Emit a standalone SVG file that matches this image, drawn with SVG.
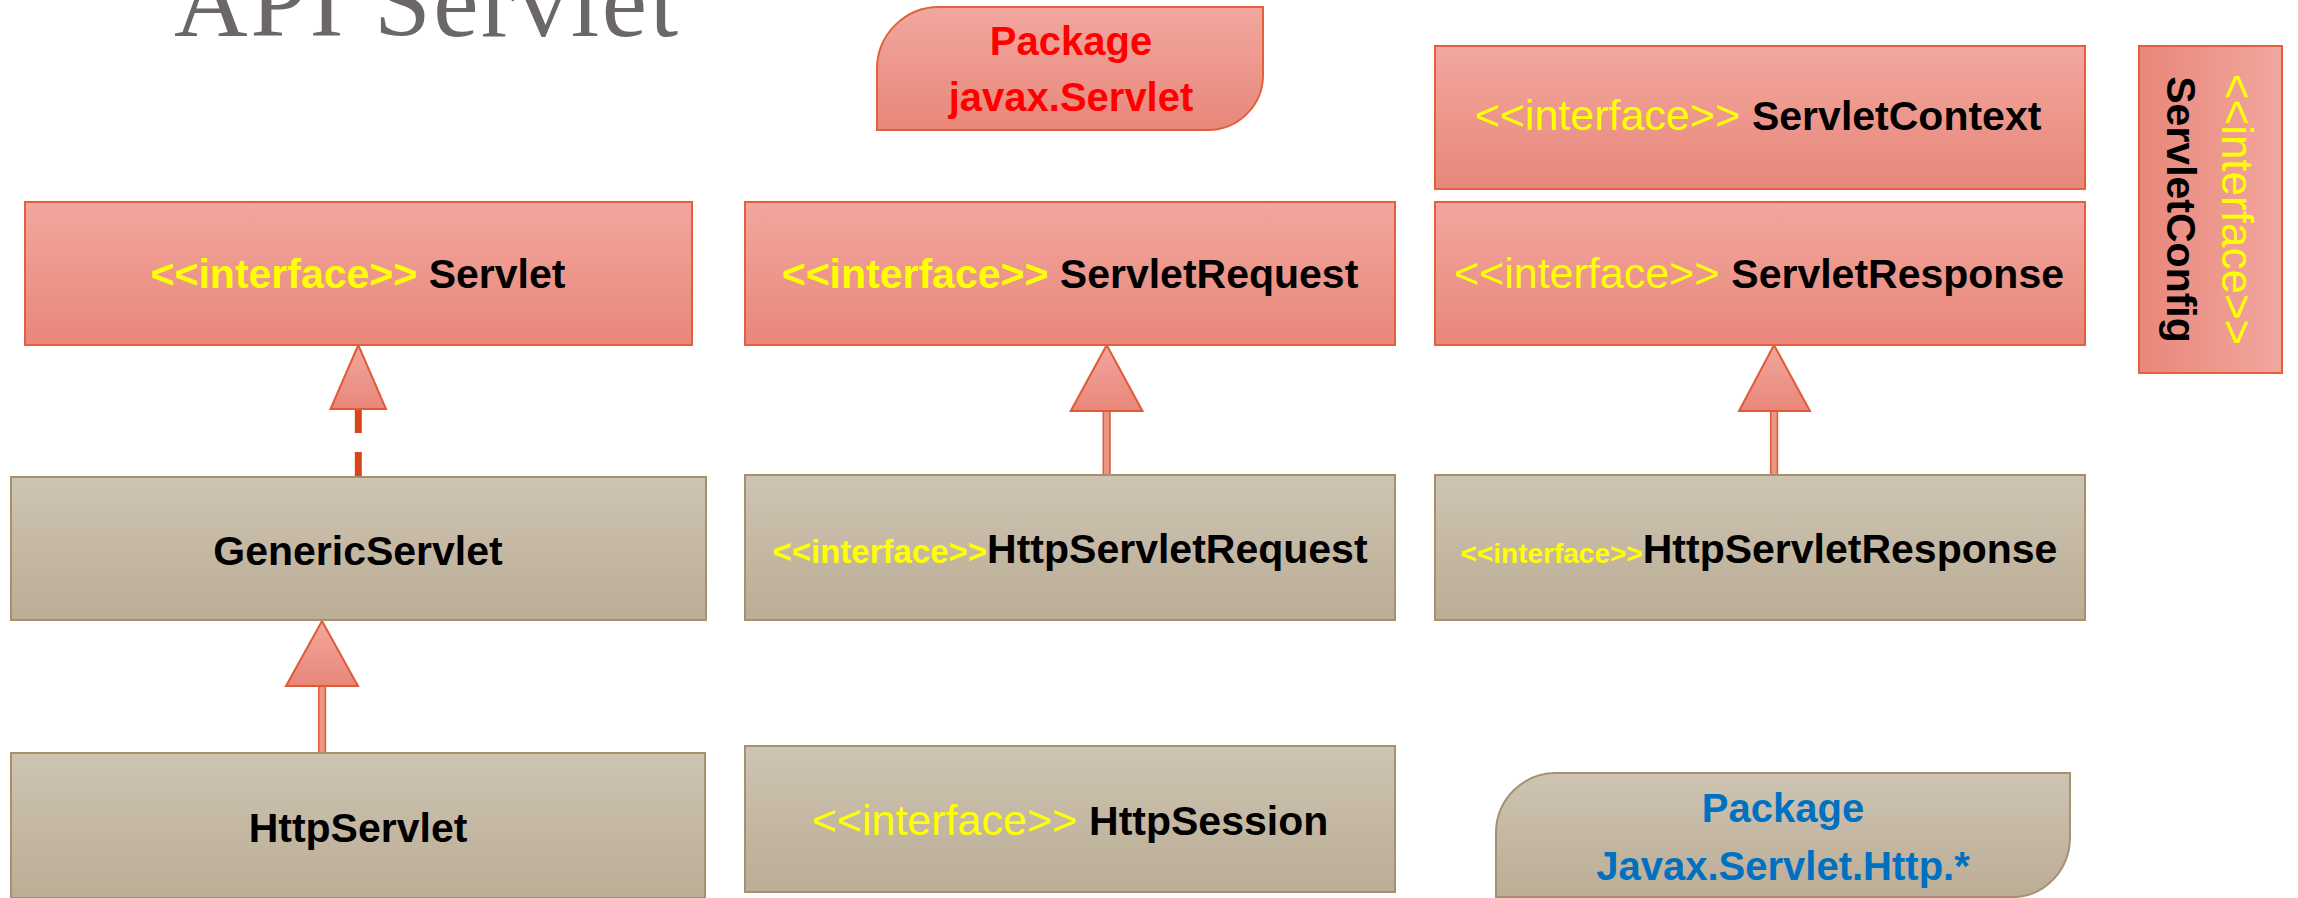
<svg xmlns="http://www.w3.org/2000/svg" width="2298" height="898" viewBox="0 0 2298 898">
<defs>
<linearGradient id="pinkV" x1="0" y1="0" x2="0" y2="1"><stop offset="0" stop-color="#f2a79e"/><stop offset="1" stop-color="#e8877a"/></linearGradient>
<linearGradient id="pinkH" x1="1" y1="0" x2="0" y2="0"><stop offset="0" stop-color="#f2a79e"/><stop offset="1" stop-color="#e8877a"/></linearGradient>
<linearGradient id="tanV" x1="0" y1="0" x2="0" y2="1"><stop offset="0" stop-color="#cdc4b2"/><stop offset="1" stop-color="#bcad96"/></linearGradient>
</defs>
<style>
.pink{fill:url(#pinkV);stroke:#e2603c;stroke-width:2}
.pinkh{fill:url(#pinkH);stroke:#e2603c;stroke-width:2}
.tan{fill:url(#tanV);stroke:#a6916f;stroke-width:2}
text{font-family:"Liberation Sans",Arial,sans-serif;text-anchor:middle}
.b{font-weight:bold;fill:#000;font-size:41px}
.y{fill:#ffff00;font-size:43px}
.yb{fill:#ffff00;font-weight:bold;font-size:41px}
.tri{fill:url(#pinkV);stroke:#e05a35;stroke-width:2}
.stem{fill:#ec9585;stroke:#e05a35;stroke-width:1.5}
.dash{stroke:#d5471a;stroke-width:7;stroke-dasharray:24 19;fill:none}
</style>
<rect width="2298" height="898" fill="#ffffff"/>
<text x="174" y="36" textLength="504" lengthAdjust="spacing" style="font-family:'Liberation Serif',serif;font-size:102px;fill:#6b6766;text-anchor:start">API Servlet</text>

<g id="connectors">
<line class="dash" x1="358.3" y1="409" x2="358.3" y2="476"/>
<polygon class="tri" points="358.3,345 330.5,409 386,409"/>
<rect class="stem" x="1103.3" y="411" width="6.7" height="64"/>
<polygon class="tri" points="1106.7,345 1070.7,411 1142.5,411"/>
<rect class="stem" x="1770.7" y="411" width="6.7" height="64"/>
<polygon class="tri" points="1774,345 1739,411 1810,411"/>
<rect class="stem" x="318.7" y="686" width="6.7" height="67"/>
<polygon class="tri" points="322,621 286,686 358,686"/>
</g>

<g id="pkg-servlet">
<path class="pink" d="M877,69 A62,62 0 0 1 939,7 L1263,7 L1263,75 A55,55 0 0 1 1208,130 L877,130 Z"/>
<text style="font-weight:bold;fill:#ff0000;font-size:40px" x="1071" y="55">Package</text>
<text style="font-weight:bold;fill:#ff0000;font-size:40px" x="1071" y="111">javax.Servlet</text>
</g>

<g id="servlet-context">
<rect class="pink" x="1435" y="46" width="650" height="143"/>
<text x="1758" y="130"><tspan class="y">&lt;&lt;interface&gt;&gt; </tspan><tspan class="b">ServletContext</tspan></text>
</g>

<g id="servlet-config">
<rect class="pinkh" x="2139" y="46" width="143" height="327"/>
<text class="y" style="font-size:44px" transform="translate(2222,209.5) rotate(90)">&lt;&lt;interface&gt;&gt;</text>
<text class="b" transform="translate(2167,209.5) rotate(90)">ServletConfig</text>
</g>

<g id="servlet">
<rect class="pink" x="25" y="202" width="667" height="143"/>
<text x="358" y="288"><tspan class="yb">&lt;&lt;interface&gt;&gt; </tspan><tspan class="b">Servlet</tspan></text>
</g>

<g id="servlet-request">
<rect class="pink" x="745" y="202" width="650" height="143"/>
<text x="1070" y="288"><tspan class="yb">&lt;&lt;interface&gt;&gt; </tspan><tspan class="b">ServletRequest</tspan></text>
</g>

<g id="servlet-response">
<rect class="pink" x="1435" y="202" width="650" height="143"/>
<text x="1759" y="288"><tspan class="y">&lt;&lt;interface&gt;&gt; </tspan><tspan class="b">ServletResponse</tspan></text>
</g>

<g id="generic-servlet">
<rect class="tan" x="11" y="477" width="695" height="143"/>
<text class="b" x="358" y="565">GenericServlet</text>
</g>

<g id="http-servlet-request">
<rect class="tan" x="745" y="475" width="650" height="145"/>
<text x="1070" y="563"><tspan class="yb" style="font-size:33px">&lt;&lt;interface&gt;&gt;</tspan><tspan class="b">HttpServletRequest</tspan></text>
</g>

<g id="http-servlet-response">
<rect class="tan" x="1435" y="475" width="650" height="145"/>
<text x="1759" y="563"><tspan class="yb" style="font-size:28px">&lt;&lt;interface&gt;&gt;</tspan><tspan class="b">HttpServletResponse</tspan></text>
</g>

<g id="http-servlet">
<rect class="tan" x="11" y="753" width="694" height="145"/>
<text class="b" x="358" y="842">HttpServlet</text>
</g>

<g id="http-session">
<rect class="tan" x="745" y="746" width="650" height="146"/>
<text x="1070" y="835"><tspan class="y">&lt;&lt;interface&gt;&gt; </tspan><tspan class="b">HttpSession</tspan></text>
</g>

<g id="pkg-http">
<path class="tan" d="M1496,833 A60,60 0 0 1 1556,773 L2070,773 L2070,837 A57,60 0 0 1 2013,897 L1496,897 Z"/>
<text style="font-weight:bold;fill:#0070c0;font-size:40px" x="1783" y="822">Package</text>
<text style="font-weight:bold;fill:#0070c0;font-size:40px" x="1783" y="880">Javax.Servlet.Http.*</text>
</g>
</svg>
